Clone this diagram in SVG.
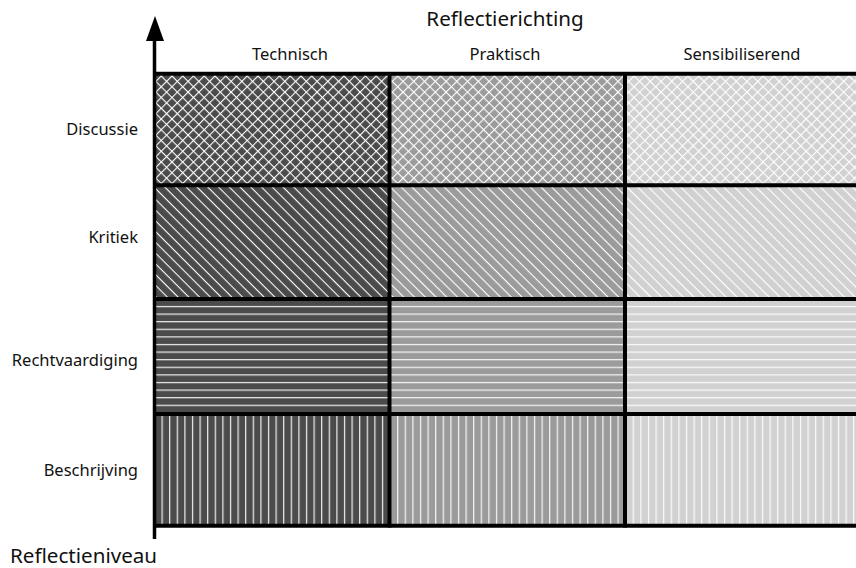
<svg xmlns="http://www.w3.org/2000/svg" width="856" height="568" viewBox="0 0 856 568">
<style>
.t{font-family:"Noto Sans","Open Sans",sans-serif;fill:#111}
.h{font-size:16.5px;text-anchor:middle}
.r{font-size:16.5px;text-anchor:end}
.big{font-size:20.6px}
.dk{fill:#4b4b4b}.md{fill:#9b9b9b}.lt{fill:#d1d1d1}
.grid{stroke:#000;stroke-width:4;fill:none}
</style>
<defs>
<pattern id="px" patternUnits="userSpaceOnUse" width="7.6" height="7.6" patternTransform="rotate(45)">
<rect x="0" y="0" width="7.6" height="1.1" fill="#fff"/>
<rect x="0" y="0" width="1.1" height="7.6" fill="#fff"/>
</pattern>
<pattern id="pd" patternUnits="userSpaceOnUse" width="7.6" height="7.6" patternTransform="rotate(45)">
<rect x="0" y="0" width="7.6" height="1.1" fill="#fff"/>
</pattern>
<pattern id="ph" patternUnits="userSpaceOnUse" width="7.6" height="7.6">
<rect x="0" y="2" width="7.6" height="1.1" fill="#fff"/>
</pattern>
<pattern id="pv" patternUnits="userSpaceOnUse" width="7.6" height="7.6">
<rect x="2" y="0" width="1.1" height="7.6" fill="#fff"/>
</pattern>
</defs>
<g id="cells">
<g id="cell-tech-disc"><rect class="dk" x="155" y="74" width="235" height="112"/><rect fill="url(#px)" x="155" y="74" width="235" height="112"/></g>
<g id="cell-prak-disc"><rect class="md" x="390" y="74" width="235" height="112"/><rect fill="url(#px)" x="390" y="74" width="235" height="112"/></g>
<g id="cell-sens-disc"><rect class="lt" x="625" y="74" width="231" height="112"/><rect fill="url(#px)" x="625" y="74" width="231" height="112"/></g>
<g id="cell-tech-krit"><rect class="dk" x="155" y="186" width="235" height="113"/><rect fill="url(#pd)" x="155" y="186" width="235" height="113"/></g>
<g id="cell-prak-krit"><rect class="md" x="390" y="186" width="235" height="113"/><rect fill="url(#pd)" x="390" y="186" width="235" height="113"/></g>
<g id="cell-sens-krit"><rect class="lt" x="625" y="186" width="231" height="113"/><rect fill="url(#pd)" x="625" y="186" width="231" height="113"/></g>
<g id="cell-tech-recht"><rect class="dk" x="155" y="299" width="235" height="115"/><rect fill="url(#ph)" x="155" y="299" width="235" height="115"/></g>
<g id="cell-prak-recht"><rect class="md" x="390" y="299" width="235" height="115"/><rect fill="url(#ph)" x="390" y="299" width="235" height="115"/></g>
<g id="cell-sens-recht"><rect class="lt" x="625" y="299" width="231" height="115"/><rect fill="url(#ph)" x="625" y="299" width="231" height="115"/></g>
<g id="cell-tech-besch"><rect class="dk" x="155" y="414" width="235" height="112"/><rect fill="url(#pv)" x="155" y="414" width="235" height="112"/></g>
<g id="cell-prak-besch"><rect class="md" x="390" y="414" width="235" height="112"/><rect fill="url(#pv)" x="390" y="414" width="235" height="112"/></g>
<g id="cell-sens-besch"><rect class="lt" x="625" y="414" width="231" height="112"/><rect fill="url(#pv)" x="625" y="414" width="231" height="112"/></g>
</g>
<g id="gridlines" class="grid">
<line x1="153" y1="73.7" x2="856" y2="73.7"/>
<line x1="153" y1="185.3" x2="856" y2="185.3"/>
<line x1="153" y1="299" x2="856" y2="299"/>
<line x1="153" y1="414" x2="856" y2="414"/>
<line x1="153" y1="525.7" x2="856" y2="525.7"/>
<line x1="389.5" y1="72" x2="389.5" y2="527.5"/>
<line x1="625" y1="72" x2="625" y2="527.5"/>
</g>
<g id="connectors">
<line x1="154.5" y1="539" x2="154.5" y2="38" stroke="#000" stroke-width="3.5"/>
<polygon points="146,41 164,41 155,16" fill="#000"/>
</g>
<g id="labels">
<text class="t big" x="505" y="26" text-anchor="middle">Reflectierichting</text>
<text class="t h" x="290" y="60">Technisch</text>
<text class="t h" x="505" y="60">Praktisch</text>
<text class="t h" x="742" y="60">Sensibiliserend</text>
<text class="t r" x="138" y="135">Discussie</text>
<text class="t r" x="138" y="243">Kritiek</text>
<text class="t r" x="138" y="366">Rechtvaardiging</text>
<text class="t r" x="138" y="476">Beschrijving</text>
<text class="t big" x="10" y="563">Reflectieniveau</text>
</g>
</svg>
